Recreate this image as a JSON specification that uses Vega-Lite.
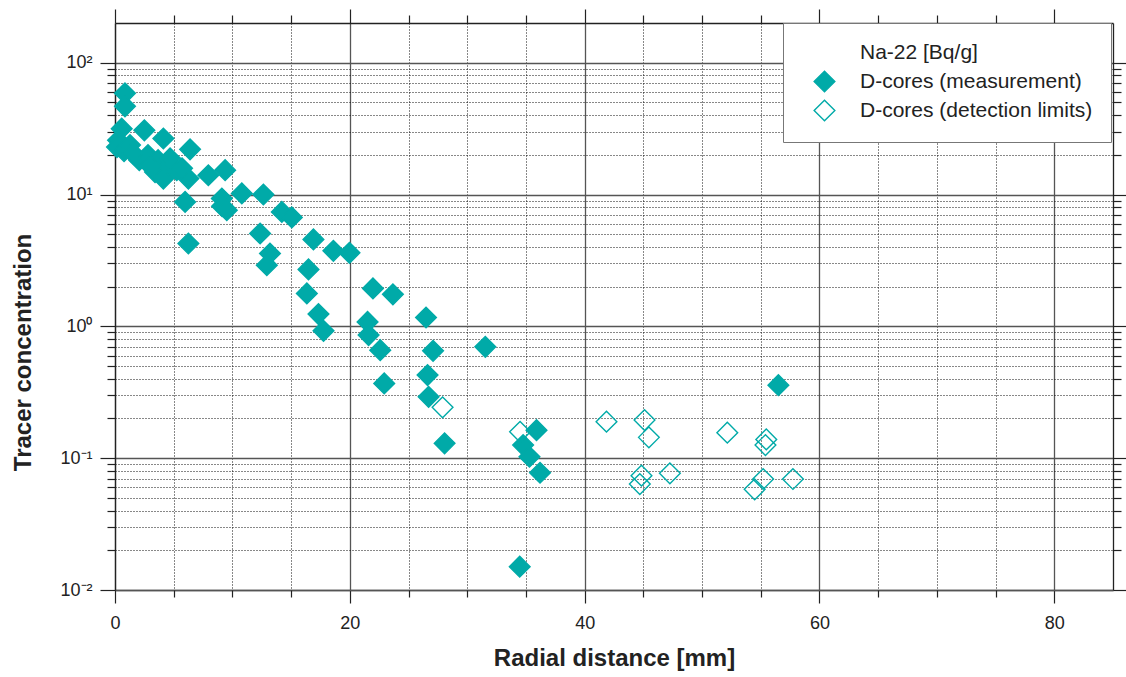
{
  "$schema": "https://vega.github.io/schema/vega-lite/v6.json",
  "width": 998,
  "height": 567,
  "autosize": {"type": "none"},
  "padding": {"left": 115, "top": 23, "right": 13, "bottom": 87},
  "background": "white",
  "config": {
    "font": "Liberation Sans",
    "view": {"stroke": null},
    "axis": {"labelFont": "Liberation Sans", "titleFont": "Liberation Sans"}
  },
  "data": {
    "values": [
      {"r": 0.85, "c": 58.6, "type": "D-cores (measurement)"},
      {"r": 0.85, "c": 46.7, "type": "D-cores (measurement)"},
      {"r": 0.57, "c": 31.6, "type": "D-cores (measurement)"},
      {"r": 0.26, "c": 25.8, "type": "D-cores (measurement)"},
      {"r": 0.17, "c": 22.9, "type": "D-cores (measurement)"},
      {"r": 0.77, "c": 21.3, "type": "D-cores (measurement)"},
      {"r": 1.28, "c": 23.7, "type": "D-cores (measurement)"},
      {"r": 2.5, "c": 30.7, "type": "D-cores (measurement)"},
      {"r": 4.12, "c": 26.6, "type": "D-cores (measurement)"},
      {"r": 2.07, "c": 18.2, "type": "D-cores (measurement)"},
      {"r": 2.81, "c": 19.9, "type": "D-cores (measurement)"},
      {"r": 3.41, "c": 14.8, "type": "D-cores (measurement)"},
      {"r": 4.12, "c": 13.2, "type": "D-cores (measurement)"},
      {"r": 3.67, "c": 18.2, "type": "D-cores (measurement)"},
      {"r": 4.52, "c": 16.7, "type": "D-cores (measurement)"},
      {"r": 5.26, "c": 15.3, "type": "D-cores (measurement)"},
      {"r": 6.25, "c": 13.2, "type": "D-cores (measurement)"},
      {"r": 5.71, "c": 15.8, "type": "D-cores (measurement)"},
      {"r": 7.95, "c": 14.0, "type": "D-cores (measurement)"},
      {"r": 9.38, "c": 15.3, "type": "D-cores (measurement)"},
      {"r": 6.39, "c": 22.0, "type": "D-cores (measurement)"},
      {"r": 1.53, "c": 20.6, "type": "D-cores (measurement)"},
      {"r": 4.69, "c": 18.8, "type": "D-cores (measurement)"},
      {"r": 3.0, "c": 16.5, "type": "D-cores (measurement)"},
      {"r": 5.97, "c": 8.79, "type": "D-cores (measurement)"},
      {"r": 9.1, "c": 9.33, "type": "D-cores (measurement)"},
      {"r": 9.12, "c": 8.15, "type": "D-cores (measurement)"},
      {"r": 9.52, "c": 7.6, "type": "D-cores (measurement)"},
      {"r": 10.8, "c": 10.2, "type": "D-cores (measurement)"},
      {"r": 12.64, "c": 10.0, "type": "D-cores (measurement)"},
      {"r": 14.21, "c": 7.38, "type": "D-cores (measurement)"},
      {"r": 15.06, "c": 6.7, "type": "D-cores (measurement)"},
      {"r": 12.36, "c": 5.06, "type": "D-cores (measurement)"},
      {"r": 16.9, "c": 4.56, "type": "D-cores (measurement)"},
      {"r": 6.25, "c": 4.25, "type": "D-cores (measurement)"},
      {"r": 13.2, "c": 3.57, "type": "D-cores (measurement)"},
      {"r": 12.93, "c": 2.91, "type": "D-cores (measurement)"},
      {"r": 16.48, "c": 2.7, "type": "D-cores (measurement)"},
      {"r": 18.6, "c": 3.74, "type": "D-cores (measurement)"},
      {"r": 19.97, "c": 3.61, "type": "D-cores (measurement)"},
      {"r": 16.34, "c": 1.776, "type": "D-cores (measurement)"},
      {"r": 17.33, "c": 1.238, "type": "D-cores (measurement)"},
      {"r": 17.76, "c": 0.925, "type": "D-cores (measurement)"},
      {"r": 21.97, "c": 1.94, "type": "D-cores (measurement)"},
      {"r": 23.67, "c": 1.75, "type": "D-cores (measurement)"},
      {"r": 21.51, "c": 1.08, "type": "D-cores (measurement)"},
      {"r": 21.6, "c": 0.858, "type": "D-cores (measurement)"},
      {"r": 22.59, "c": 0.66, "type": "D-cores (measurement)"},
      {"r": 26.49, "c": 1.167, "type": "D-cores (measurement)"},
      {"r": 27.09, "c": 0.652, "type": "D-cores (measurement)"},
      {"r": 26.62, "c": 0.427, "type": "D-cores (measurement)"},
      {"r": 22.93, "c": 0.369, "type": "D-cores (measurement)"},
      {"r": 26.71, "c": 0.292, "type": "D-cores (measurement)"},
      {"r": 31.54, "c": 0.699, "type": "D-cores (measurement)"},
      {"r": 28.07, "c": 0.1295, "type": "D-cores (measurement)"},
      {"r": 35.9, "c": 0.163, "type": "D-cores (measurement)"},
      {"r": 34.76, "c": 0.1257, "type": "D-cores (measurement)"},
      {"r": 35.3, "c": 0.1025, "type": "D-cores (measurement)"},
      {"r": 36.2, "c": 0.0775, "type": "D-cores (measurement)"},
      {"r": 34.47, "c": 0.01504, "type": "D-cores (measurement)"},
      {"r": 56.5, "c": 0.358, "type": "D-cores (measurement)"},
      {"r": 27.9, "c": 0.243, "type": "D-cores (detection limits)"},
      {"r": 34.5, "c": 0.1585, "type": "D-cores (detection limits)"},
      {"r": 41.86, "c": 0.189, "type": "D-cores (detection limits)"},
      {"r": 45.1, "c": 0.1945, "type": "D-cores (detection limits)"},
      {"r": 45.47, "c": 0.1438, "type": "D-cores (detection limits)"},
      {"r": 52.15, "c": 0.156, "type": "D-cores (detection limits)"},
      {"r": 55.47, "c": 0.1388, "type": "D-cores (detection limits)"},
      {"r": 55.4, "c": 0.1258, "type": "D-cores (detection limits)"},
      {"r": 44.84, "c": 0.0736, "type": "D-cores (detection limits)"},
      {"r": 44.7, "c": 0.0636, "type": "D-cores (detection limits)"},
      {"r": 47.26, "c": 0.0767, "type": "D-cores (detection limits)"},
      {"r": 55.2, "c": 0.0695, "type": "D-cores (detection limits)"},
      {"r": 54.48, "c": 0.058, "type": "D-cores (detection limits)"},
      {"r": 57.74, "c": 0.0695, "type": "D-cores (detection limits)"}
    ]
  },
  "layer": [
    {
      "mark": {"type": "point", "shape": "diamond", "size": 430, "strokeWidth": 1.4, "opacity": 1},
      "encoding": {
        "x": {
          "field": "r", "type": "quantitative",
          "scale": {"domain": [0, 85], "nice": false, "zero": false},
          "axis": {
            "orient": "bottom", "values": [0, 20, 40, 60, 80],
            "title": "Radial distance [mm]", "titleFontSize": 24, "titleFontWeight": "bold", "titleColor": "#222", "titlePadding": 14,
            "labelFontSize": 18, "labelColor": "#222", "labelPadding": 11, "labelFlush": false,
            "tickSize": 13, "tickColor": "#222", "tickWidth": 1.2,
            "domain": true, "domainColor": "#555", "domainWidth": 1.5,
            "grid": true, "gridColor": "#555", "gridWidth": 1.3
          }
        },
        "y": {
          "field": "c", "type": "quantitative",
          "scale": {"type": "log", "domain": [0.01, 200], "nice": false},
          "axis": {
            "orient": "left", "values": [0.01, 0.1, 1, 10, 100],
            "labelExpr": "datum.value == 100 ? '10²' : datum.value == 10 ? '10¹' : datum.value == 1 ? '10⁰' : datum.value == 0.1 ? '10⁻¹' : '10⁻²'",
            "title": "Tracer concentration", "titleFontSize": 24, "titleFontWeight": "bold", "titleColor": "#222", "titlePadding": 24, "titleY": 329,
            "labelFontSize": 18, "labelColor": "#222", "labelPadding": 8,
            "tickSize": 15, "tickColor": "#222", "tickWidth": 1.2,
            "domain": true, "domainColor": "#222", "domainWidth": 1.3,
            "grid": true, "gridColor": "#555", "gridWidth": 1.3
          }
        },
        "fill": {
          "field": "type", "type": "nominal",
          "scale": {"domain": ["Na-22 [Bq/g]", "D-cores (measurement)", "D-cores (detection limits)"], "range": ["transparent", "#00aaa8", "transparent"]},
          "legend": {
            "orient": "none", "legendX": 668, "legendY": 0, "title": null,
            "labelFontSize": 21, "labelColor": "#222", "labelOffset": 24, "labelLimit": 400,
            "padding": 18, "symbolOffset": 12, "rowPadding": 2,
            "symbolSize": 430, "symbolType": "diamond", "symbolStrokeWidth": 1.4,
            "fillColor": "white", "strokeColor": "#777"
          }
        },
        "stroke": {
          "field": "type", "type": "nominal",
          "scale": {"domain": ["Na-22 [Bq/g]", "D-cores (measurement)", "D-cores (detection limits)"], "range": ["transparent", "#00aaa8", "#00aaa8"]},
          "legend": {
            "orient": "none", "legendX": 668, "legendY": 0, "title": null,
            "labelFontSize": 21, "labelColor": "#222", "labelOffset": 24, "labelLimit": 400,
            "padding": 18, "symbolOffset": 12, "rowPadding": 2,
            "symbolSize": 430, "symbolType": "diamond", "symbolStrokeWidth": 1.4,
            "fillColor": "white", "strokeColor": "#777"
          }
        }
      }
    },
    {
      "mark": {"type": "point", "opacity": 0},
      "encoding": {
        "x": {
          "field": "r", "type": "quantitative",
          "axis": {
            "orient": "bottom", "values": [5, 10, 15, 25, 30, 35, 45, 50, 55, 65, 70, 75],
            "labels": false, "title": null, "domain": false,
            "tickSize": 7, "tickColor": "#222", "tickWidth": 1.2,
            "grid": true, "gridColor": "#111", "gridWidth": 1, "gridDash": [1, 2]
          }
        },
        "y": {
          "field": "c", "type": "quantitative",
          "axis": {
            "orient": "left", "values": [0.02, 0.03, 0.04, 0.05, 0.06, 0.07, 0.08, 0.09, 0.2, 0.3, 0.4, 0.5, 0.6, 0.7, 0.8, 0.9, 2, 3, 4, 5, 6, 7, 8, 9, 20, 30, 40, 50, 60, 70, 80, 90],
            "labels": false, "title": null, "domain": false,
            "tickSize": 8, "tickColor": "#222", "tickWidth": 1.2,
            "grid": true, "gridColor": "#111", "gridWidth": 1, "gridDash": [1, 2]
          }
        }
      }
    },
    {
      "mark": {"type": "point", "opacity": 0},
      "encoding": {
        "x": {
          "field": "r", "type": "quantitative",
          "axis": {
            "orient": "top", "values": [0, 20, 40, 60, 80],
            "labels": false, "title": null, "domain": true, "domainColor": "#222", "domainWidth": 1.3,
            "tickSize": 14, "tickColor": "#222", "tickWidth": 1.2, "grid": false
          }
        },
        "y": {
          "field": "c", "type": "quantitative",
          "axis": {
            "orient": "right", "values": [0.01, 0.1, 1, 10, 100],
            "labels": false, "title": null, "domain": true, "domainColor": "#222", "domainWidth": 1.3,
            "tickSize": 15, "tickColor": "#222", "tickWidth": 1.2, "grid": false
          }
        }
      }
    },
    {
      "mark": {"type": "point", "opacity": 0},
      "encoding": {
        "x": {
          "field": "r", "type": "quantitative",
          "axis": {
            "orient": "top", "values": [5, 10, 15, 25, 30, 35, 45, 50, 55, 65, 70, 75],
            "labels": false, "title": null, "domain": false,
            "tickSize": 8, "tickColor": "#222", "tickWidth": 1.2, "grid": false
          }
        },
        "y": {
          "field": "c", "type": "quantitative",
          "axis": {
            "orient": "right", "values": [0.02, 0.03, 0.04, 0.05, 0.06, 0.07, 0.08, 0.09, 0.2, 0.3, 0.4, 0.5, 0.6, 0.7, 0.8, 0.9, 2, 3, 4, 5, 6, 7, 8, 9, 20, 30, 40, 50, 60, 70, 80, 90],
            "labels": false, "title": null, "domain": false,
            "tickSize": 8, "tickColor": "#222", "tickWidth": 1.2, "grid": false
          }
        }
      }
    }
  ],
  "resolve": {"axis": {"x": "independent", "y": "independent"}}
}
